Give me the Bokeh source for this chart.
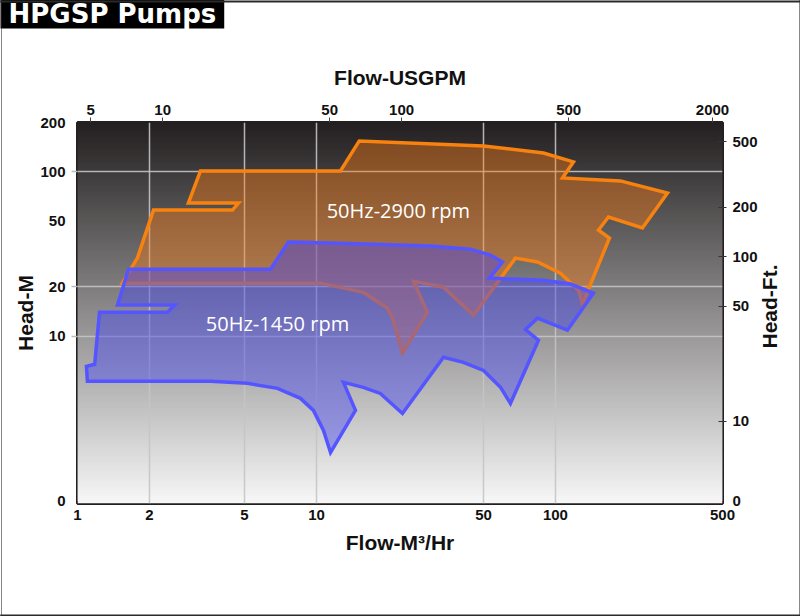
import numpy as np
from bokeh.plotting import figure
from bokeh.models import Range1d, LogScale, LogAxis, FixedTicker, Label
from bokeh.embed import file_html
from bokeh.resources import INLINE

# ---- data (flow m3/h, head m) ----
bottom_ticks = [1, 2, 5, 10, 50, 100, 500]
left_ticks = [1, 10, 20, 50, 100, 200]
left_marks = [10, 20, 100]
top_ticks_gpm = [5, 10, 50, 100, 500, 2000]
right_ticks_ft = [3.28084, 10, 50, 100, 200, 500]
right_marks_ft = [10, 50, 100, 200, 500]
xgrid_ticks = [2, 5, 10, 50, 100]
ygrid_ticks = [10, 20, 100]

orange_flow = [1.54, 1.78, 2.08, 4.45, 4.72, 2.91, 3.27, 12.6, 15.1, 50.0, 89.1, 118.9,
               107.0, 187.0, 294.2, 231.2, 166.6, 151.4, 168.2, 129.7, 124.8, 104.9,
               84.1, 68.0, 45.4, 34.0, 25.5, 29.1, 22.9, 20.8, 19.8, 15.7, 10.4]
orange_head = [21.05, 29.9, 58.6, 58.6, 64.7, 64.7, 101.4, 101.4, 154.5, 144.1, 130.5, 115.1,
               91.9, 88.2, 74.5, 45.6, 53.2, 44.3, 39.6, 15.7, 19.1, 24.2,
               28.3, 29.9, 13.4, 19.9, 21.6, 14.0, 7.88, 12.9, 14.8, 18.5, 21.05]

blue_flow = [1.635, 6.42, 7.63, 11.45, 30.0, 44.1, 53.5, 60.0, 52.9, 89.1, 115.6, 144.2,
             112.2, 84.1, 74.9, 84.9, 64.8, 58.9, 50.0, 41.2, 34.0, 22.9, 18.5, 15.7, 12.97,
             14.56, 11.45, 10.7, 9.71, 8.57, 6.87, 5.14, 3.60, 1.10, 1.09, 1.18, 1.236,
             2.38, 2.55, 1.47]
blue_head = [25.6, 25.6, 37.4, 36.9, 35.4, 33.9, 31.2, 28.3, 22.6, 21.9, 20.8, 18.3,
             10.9, 12.9, 11.0, 9.45, 3.90, 4.89, 6.20, 6.94, 7.45, 3.39, 4.49, 4.89, 5.24,
             3.54, 1.96, 2.67, 3.54, 4.19, 4.82, 5.17, 5.32, 5.32, 6.56, 6.75, 14.0,
             14.0, 15.5, 15.5]

series_names = ["50Hz-2900 rpm", "50Hz-1450 rpm"]
name_x = [22.0, 6.87]
name_y = [58.6, 12.0]

M3H_TO_GPM = 4.40287
M_TO_FT = 3.28084
X0, X1 = 1, 500
Y0, Y1 = 0.96, 200

W, H = 800, 616
BL, BR, BT, BB = 77, 78, 122, 113
FW, FH = W - BL - BR, H - BT - BB


def px_x(px):
    """page pixel x -> data x (for annotations placed outside the frame)"""
    return 10 ** (np.log10(X0) + (px - BL) / FW * (np.log10(X1) - np.log10(X0)))


def px_y(py):
    return 10 ** (np.log10(Y0) + (BT + FH - py) / FH * (np.log10(Y1) - np.log10(Y0)))


p = figure(width=W, height=H, x_axis_type="log", y_axis_type="log",
           x_range=Range1d(X0, X1), y_range=Range1d(Y0, Y1),
           output_backend="svg", toolbar_location=None,
           min_border_left=BL, min_border_right=BR, min_border_top=BT, min_border_bottom=BB)
p.border_fill_color = "white"
p.outline_line_color = "#231f20"
p.outline_line_width = 3

# gradient background (bands)
N = 160
edges = 10 ** np.linspace(np.log10(Y0), np.log10(Y1), N + 1)
bot_c = np.array([247, 247, 247])
top_c = np.array([35, 31, 32])
cols = []
for i in range(N):
    t = (i + 0.5) / N
    c = bot_c + (top_c - bot_c) * t
    cols.append("#%02x%02x%02x" % tuple(int(round(v)) for v in c))
bb = edges[:-1]
tt = np.array([edges[min(i + 2, N)] for i in range(N)])
bg = p.quad(left=X0, right=X1, bottom=bb, top=tt, fill_color=cols, line_color=None)
bg.level = "image"

# grids
p.xgrid.ticker = FixedTicker(ticks=xgrid_ticks)
p.ygrid.ticker = FixedTicker(ticks=ygrid_ticks)
for g in (p.xgrid[0], p.ygrid[0]):
    g.grid_line_color = "#c4c4c4"
    g.grid_line_width = 1.5
    g.grid_line_alpha = 0.9

# regions
p.patch(orange_flow, orange_head, fill_color="#ff7a10", fill_alpha=0.4,
        line_color="#f7820f", line_width=3.5, line_join="miter")
p.patch(blue_flow, blue_head, fill_color="#4646f0", fill_alpha=0.45,
        line_color="#5555ff", line_width=3.5, line_join="miter")

for nm, nx, ny in zip(series_names, name_x, name_y):
    p.add_layout(Label(x=nx, y=ny, text=nm, text_align="center", text_baseline="middle",
                       text_color="white", text_font="Open Sans", text_font_size="20px"))

BOLD = "Liberation Sans"
TXT = "#111111"


def style_axis(ax, size_lbl="15px", size_title="21px"):
    ax.axis_line_color = None
    ax.minor_tick_out = 0
    ax.minor_tick_in = 0
    ax.major_label_text_font = BOLD
    ax.major_label_text_font_style = "bold"
    ax.major_label_text_font_size = size_lbl
    ax.major_label_text_color = TXT
    ax.axis_label_text_font = BOLD
    ax.axis_label_text_font_style = "bold"
    ax.axis_label_text_font_size = size_title
    ax.axis_label_text_color = TXT


# bottom axis
xa = p.xaxis[0]
xa.ticker = FixedTicker(ticks=bottom_ticks)
xa.major_label_overrides = {v: str(v) for v in bottom_ticks}
xa.axis_label = "Flow-M\u00b3/Hr"
style_axis(xa, "15px", "21px")
xa.major_tick_out = 0
xa.major_tick_in = 0
xa.major_label_standoff = 6
xa.axis_label_standoff = 8

# left axis (tick marks only where the grid lines are)
ya = p.yaxis[0]
ya.ticker = FixedTicker(ticks=left_ticks, minor_ticks=left_marks)
ya.major_label_overrides = {1: "0", 10: "10", 20: "20", 50: "50", 100: "100", 200: "200"}
ya.axis_label = "Head-M"
style_axis(ya)
ya.major_tick_out = 0
ya.major_tick_in = 0
ya.minor_tick_out = 6
ya.minor_tick_line_color = "#bbbbbb"
ya.minor_tick_line_width = 1.5
ya.major_label_standoff = 6
ya.axis_label_standoff = 0

# top axis (USGPM)
p.extra_x_ranges = {"gpm": Range1d(X0 * M3H_TO_GPM, X1 * M3H_TO_GPM)}
p.extra_x_scales = {"gpm": LogScale()}
ta = LogAxis(x_range_name="gpm", ticker=FixedTicker(ticks=top_ticks_gpm),
             axis_label="Flow-USGPM")
ta.major_label_overrides = {v: str(v) for v in top_ticks_gpm}
style_axis(ta)
ta.major_tick_out = 5
ta.major_tick_in = 0
ta.major_tick_line_color = "#444444"
ta.major_label_standoff = 3
ta.axis_label_standoff = 13
p.add_layout(ta, "above")

# right axis (feet)
p.extra_y_ranges = {"ft": Range1d(Y0 * M_TO_FT, Y1 * M_TO_FT)}
p.extra_y_scales = {"ft": LogScale()}
ra = LogAxis(y_range_name="ft", ticker=FixedTicker(ticks=right_ticks_ft, minor_ticks=right_marks_ft))
ra.major_label_overrides = {3.28084: "0", 10: "10", 50: "50", 100: "100", 200: "200", 500: "500"}
style_axis(ra)
ra.major_tick_out = 0
ra.major_tick_in = 0
ra.minor_tick_out = 4
ra.minor_tick_in = 4
ra.minor_tick_line_color = "#333333"
ra.minor_tick_line_width = 1
ra.major_label_standoff = 6
p.add_layout(ra, "right")

# right axis title (reads bottom-to-top), placed in the side panel so it is not clipped
p.add_layout(Label(x=px_x(769), y=px_y(306), text="Head-Ft.", angle=np.pi / 2,
                   text_align="center", text_baseline="middle", text_color=TXT,
                   text_font=BOLD, text_font_style="bold", text_font_size="21px"), "right")

# title box (box anchored at its top-left corner)
p.add_layout(Label(x=px_x(0), y=px_y(-2), text="HPGSP Pumps",
                   text_align="left", text_baseline="top", text_color="white",
                   text_font="DejaVu Sans", text_font_style="bold", text_font_size="26px",
                   background_fill_color="black", padding=(8, 0)), "above")


# thin frame around the whole picture: four very flat boxes
def edge(cx, cy, ph, pv, side):
    p.add_layout(Label(x=px_x(cx), y=px_y(cy), text=" ", text_font_size="2px",
                       text_align="center", text_baseline="middle",
                       background_fill_color="#2a2a2a", padding=(ph, pv)), side)


edge(400, 1, 400, 0, "above")
edge(400, 615, 400, 0, "below")
edge(1, 308, 0, 308, "left")
edge(799, 308, 0, 308, "right")

open("out.html", "w").write(file_html(p, INLINE))
